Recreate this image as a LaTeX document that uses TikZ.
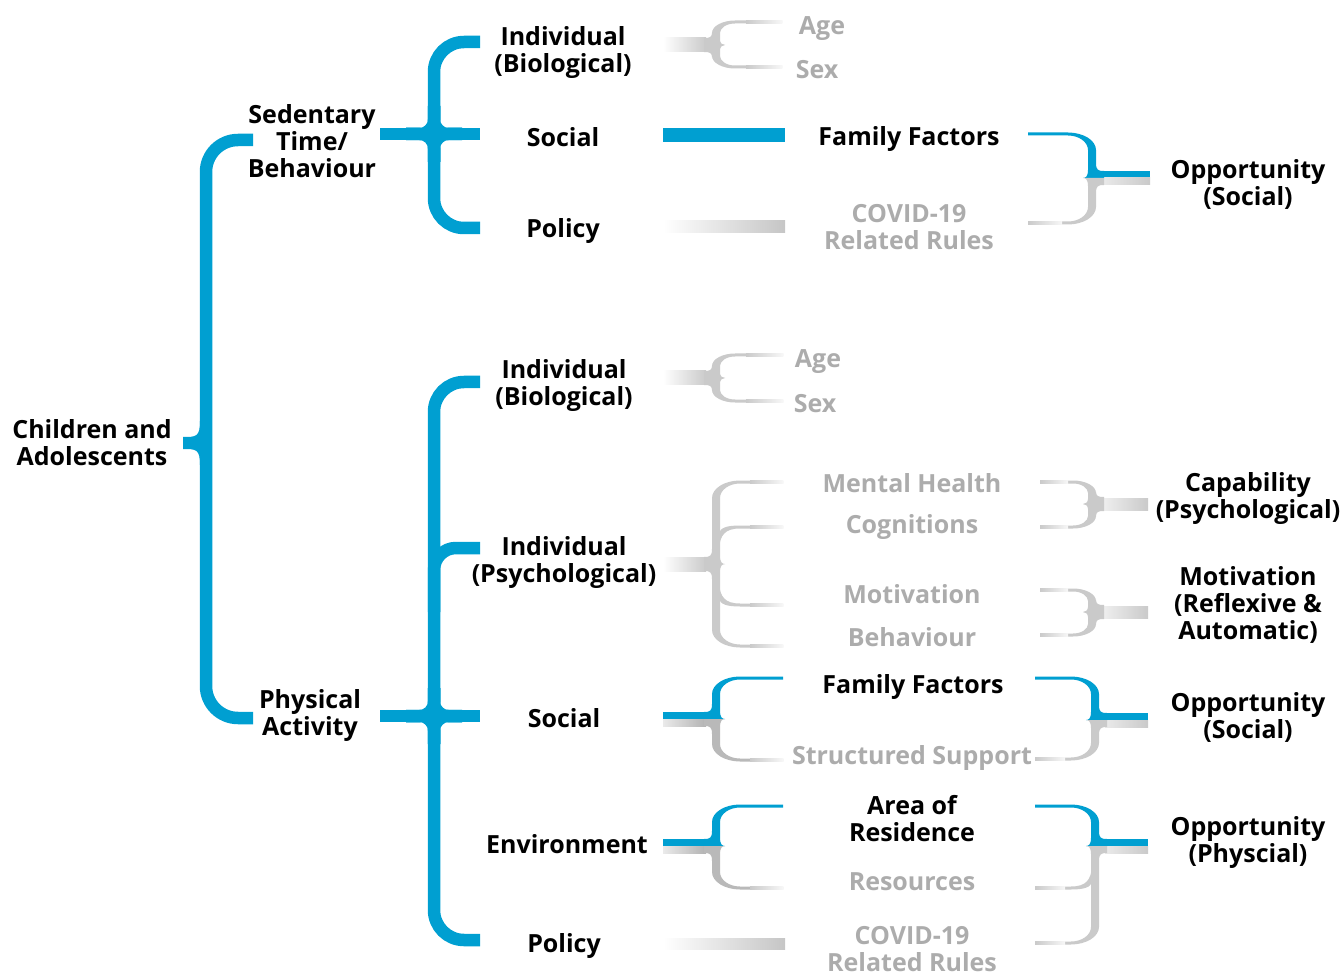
\documentclass[tikz,border=0pt]{standalone}
\usepackage{fontspec}
\setmainfont{Open Sans}
\definecolor{bl}{RGB}{0,159,209}
\definecolor{gtx}{RGB}{172,172,172}
\definecolor{gbr}{RGB}{202,202,202}
\tikzset{
  lbl/.style={font=\fontsize{25}{27}\selectfont\bfseries, align=center, inner sep=0pt, text=black,
    execute at begin node=\strut, execute at end node=\strut, yshift=-3.6pt},
  glbl/.style={lbl, text=gtx},
  bline/.style={line width=12.5, draw=bl},
}
% half brace: #1 arm offset d, #2 arm end L, #3 fill colour, #4 corner size k
\newcommand\hb[4]{%
  \pgfmathsetmacro\hs{(#1>0)?1:-1}%
  \fill[#3] (-12,{(\hs)*7}) .. controls (-6,{(\hs)*7}) and (-4,{(\hs)*8}) .. (-4,{(\hs)*(7+#4/2)})
    -- (-4,{#1-(\hs)*#4}) .. controls (-4,{#1-(\hs)*#4+(\hs)*0.55*(#4+1.5)}) and ({#4+8-0.55*(#4+12)},{#1+(\hs)*1.5}) .. ({#4+8},{#1+(\hs)*1.5})
    -- (#2,{#1+(\hs)*1.5}) -- (#2,{#1-(\hs)*1.5}) -- ({#4+8},{#1-(\hs)*1.5})
    .. controls ({#4+8-0.55*(#4+4)},{#1-(\hs)*1.5}) and (4,{#1-(\hs)*#4+(\hs)*0.55*(#4-1.5)}) .. (4,{#1-(\hs)*#4})
    -- (4,{(\hs)*#4/2}) .. controls (4,{(\hs)*2}) and (6,0) .. (9,0) -- (-12,0) -- cycle;}
% branch: #1 arm offset d, #2 arm end L, #3 colour
\newcommand\brr[3]{%
  \pgfmathsetmacro\hu{(#1>0)?-1:1}%
  \fill[#3] (3,{#1+(\hu)*22}) .. controls (4,{#1+(\hu)*8}) and (9,{#1+(\hu)*1.5}) .. (24,{#1+(\hu)*1.5})
    -- (#2,{#1+(\hu)*1.5}) -- (#2,{#1-(\hu)*1.5}) -- (24,{#1-(\hu)*1.5})
    .. controls (10,{#1-(\hu)*1.5}) and (4.5,{#1+(\hu)*1}) .. (3,{#1+(\hu)*6}) -- cycle;}
% fading grey arm: #1 d, #2 x start, #3 L
\newcommand\farm[3]{\shade[left color=gbr, right color=gbr!15] (#2,{#1-1.5}) rectangle (#3,{#1+1.5});}
\begin{document}
\begin{tikzpicture}[x=1pt,y=-1pt]
\useasboundingbox (0,0) rectangle (1341,973);

% ---------- root brace
\draw[bline, rounded corners=32] (253,140) -- (206,140) -- (206,718) -- (253,718);
\fill[bl] (200,421) .. controls (200,437) and (196,437) .. (183,437) -- (183,449) .. controls (196,449) and (200,449) .. (200,465) -- cycle;
\coordinate (rootcusp) at (183,443);

% ---------- sedentary brace
\draw[bline] (380,134) -- (480,134);
\draw[bline, rounded corners=30] (480,42) -- (434,42) -- (434,228) -- (480,228);
\foreach \dx/\dy in {1/1,1/-1,-1/1,-1/-1}
  \draw[bline, rounded corners=14] (434,{134+\dy*28}) -- (434,134) -- ({434+\dx*28},134);

% ---------- physical activity brace
\draw[bline] (380,716) -- (480,716);
\draw[bline, rounded corners=30] (480,382) -- (434,382) -- (434,940) -- (480,940);
\draw[bline, rounded corners=22] (434,612) -- (434,548) -- (480,548);
\foreach \dx/\dy in {1/1,1/-1,-1/1,-1/-1}
  \draw[bline, rounded corners=14] (434,{716+\dy*28}) -- (434,716) -- ({434+\dx*28},716);

% ---------- level 3 connectors (left)
\fill[bl] (663,128) rectangle (785,142);
\shade[left color=white, right color=gray!45] (663,221) rectangle (785,233);
\shade[left color=white, right color=gray!45] (663,938) rectangle (785,949);

\begin{scope}[shift={(716,45)}]
  \shade[left color=white, right color=gbr] (-53,-7) rectangle (-10,7);
  \hb{-23}{66}{gbr}{11}\hb{22}{66}{gbr}{11}
  \farm{-23}{30}{66}\farm{22}{30}{66}
\end{scope}
\begin{scope}[shift={(716,378)}]
  \shade[left color=white, right color=gbr] (-53,-7) rectangle (-10,7);
  \hb{-23}{67}{gbr}{11}\hb{23}{67}{gbr}{11}
  \farm{-23}{30}{67}\farm{23}{30}{67}
\end{scope}
\begin{scope}[shift={(716,564)}]
  \shade[left color=white, right color=gbr] (-53,-7) rectangle (-10,7);
  \hb{-82}{67}{gbr}{16}\hb{82}{67}{gbr}{16}
  \brr{-37}{67}{gbr}\brr{41}{67}{gbr}
  \farm{-82}{34}{67}\farm{82}{34}{67}\farm{-37}{34}{67}\farm{41}{34}{67}
\end{scope}
\begin{scope}[shift={(716,719)}]
  \fill[bl] (-53,-7) rectangle (-10,0);
  \shade[left color=gbr!40, right color=gray!60] (-53,0) rectangle (-10,7);
  \hb{-41}{67}{bl}{16}\hb{41}{67}{gray!55}{16}
  \farm{41}{34}{67}
\end{scope}
\begin{scope}[shift={(716,846)}]
  \fill[bl] (-53,-7) rectangle (-10,0);
  \shade[left color=gbr!40, right color=gray!60] (-53,0) rectangle (-10,7);
  \hb{-40}{67}{bl}{16}\hb{42}{67}{gray!55}{16}
  \farm{42}{34}{67}
\end{scope}

% ---------- level 4 connectors (right, mirrored)
\begin{scope}[shift={(1092,178)}, xscale=-1]
  \fill[bl] (-58,-7) rectangle (-10,0);
  \shade[left color=gbr!40, right color=gbr] (-58,0) rectangle (-10,7);
  \hb{-44}{64}{bl}{16}\hb{45}{64}{gbr}{16}
  \farm{45}{30}{64}
\end{scope}
\begin{scope}[shift={(1092,504)}, xscale=-1]
  \shade[left color=gbr!30, right color=gbr] (-56,-6) rectangle (-10,6);
  \hb{-22}{52}{gbr}{11}\hb{23}{52}{gbr}{11}
  \farm{-22}{24}{52}\farm{23}{24}{52}
\end{scope}
\begin{scope}[shift={(1092,612)}, xscale=-1]
  \shade[left color=gbr!30, right color=gbr] (-56,-6) rectangle (-10,6);
  \hb{-22}{52}{gbr}{11}\hb{23}{52}{gbr}{11}
  \farm{-22}{24}{52}\farm{23}{24}{52}
\end{scope}
\begin{scope}[shift={(1095,720)}, xscale=-1]
  \fill[bl] (-53,-7) rectangle (-10,0);
  \shade[left color=gbr!40, right color=gbr] (-53,0) rectangle (-10,7);
  \hb{-42}{60}{bl}{16}\hb{39}{60}{gbr}{16}
  \farm{39}{30}{60}
\end{scope}
\begin{scope}[shift={(1095,846)}, xscale=-1]
  \fill[bl] (-53,-7) rectangle (-10,0);
  \shade[left color=gbr!40, right color=gbr] (-53,0) rectangle (-10,7);
  \hb{-40}{60}{bl}{16}\hb{97}{60}{gbr}{16}\brr{42}{60}{gbr}
  \farm{97}{30}{60}\farm{42}{30}{60}
\end{scope}

% ---------- labels
\node[lbl] (ca) at (92,443) {Children and\\Adolescents};
\node[lbl] (sb) at (312,141) {Sedentary\\Time/\\Behaviour};
\node[lbl] (pa) at (310,713) {Physical\\Activity};

\node[lbl] (sbib) at (563,49.5) {Individual\\(Biological)};
\node[lbl] (sbso) at (563,137) {Social};
\node[lbl] (sbpo) at (563,228) {Policy};
\node[lbl] (paib) at (564,382.5) {Individual\\(Biological)};
\node[lbl] (paip) at (564,559.5) {Individual\\(Psychological)};
\node[lbl] (paso) at (564,718) {Social};
\node[lbl] (paen) at (567,844) {Environment};
\node[lbl] (papo) at (564,943) {Policy};

\node[glbl] (sbage) at (822,26) {Age};
\node[glbl] (sbsex) at (817,70) {Sex};
\node[lbl]  (sbff) at (909,136) {Family Factors};
\node[glbl] (sbcv) at (909,227.5) {COVID-19\\Related Rules};
\node[glbl] (paage) at (818,358) {Age};
\node[glbl] (pasex) at (815,403) {Sex};
\node[glbl] (mh) at (912,483) {Mental Health};
\node[glbl] (cog) at (912,524) {Cognitions};
\node[glbl] (mot) at (912,594) {Motivation};
\node[glbl] (beh) at (912,637) {Behaviour};
\node[lbl]  (paff) at (913,684) {Family Factors};
\node[glbl] (ss) at (912,755) {Structured Support};
\node[lbl]  (ar) at (912,818.5) {Area of\\Residence};
\node[glbl] (res) at (912,881) {Resources};
\node[glbl] (pacv) at (912,949.5) {COVID-19\\Related Rules};

\node[lbl] (o1) at (1248,182.5) {Opportunity\\(Social)};
\node[lbl] (cap) at (1248,495.5) {Capability\\(Psychological)};
\node[lbl] (mo) at (1248,603) {Motivation\\(Reflexive \&\\Automatic)};
\node[lbl] (o2) at (1248,715.5) {Opportunity\\(Social)};
\node[lbl] (o3) at (1248,839.5) {Opportunity\\(Physcial)};
\end{tikzpicture}
\end{document}
